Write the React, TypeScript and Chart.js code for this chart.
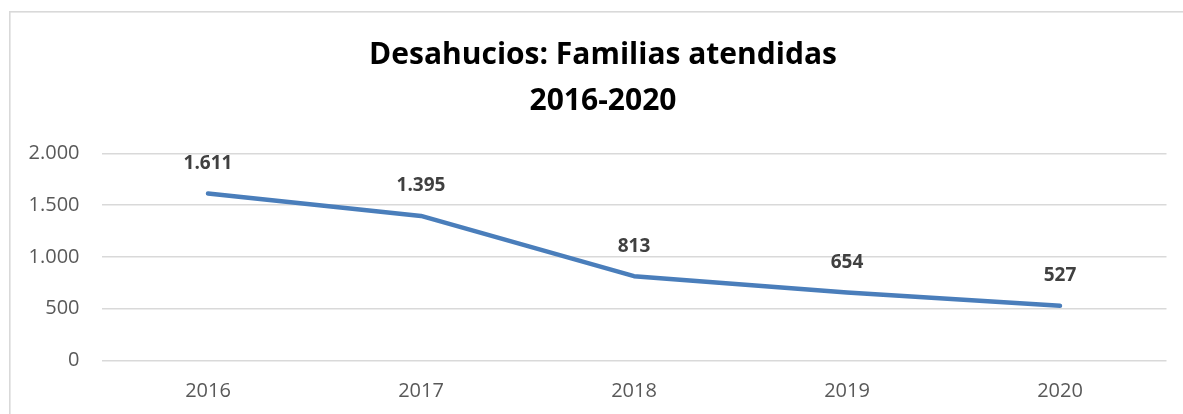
import React, { useEffect, useRef } from "react";
import { Chart, registerables } from "chart.js";

Chart.register(...registerables);

const years: string[] = ["2016", "2017", "2018", "2019", "2020"];
const families: number[] = [1611, 1395, 813, 654, 527];
const titleLines: string[] = ["Desahucios: Familias atendidas", "2016-2020"];
const yMin = 0;
const yMax = 2000;
const yStep = 500;

const fmt = (v: number): string =>
  Math.round(v).toString().replace(/\B(?=(\d{3})+(?!\d))/g, ".");

const frame = {
  id: "frame",
  beforeDraw(chart: any) {
    const ctx = chart.ctx;
    ctx.save();
    ctx.fillStyle = "#fff";
    ctx.fillRect(0, 0, chart.width, chart.height);
    ctx.fillStyle = "#d9d9d9";
    ctx.fillRect(9, 11, chart.width - 9, 1.6);
    ctx.fillRect(9, 11, 1.6, chart.height - 11);
    ctx.restore();
  },
};

const valueLabels = {
  id: "valueLabels",
  afterDatasetsDraw(chart: any) {
    const ctx = chart.ctx;
    const meta = chart.getDatasetMeta(0);
    ctx.save();
    ctx.font = "bold 19px 'Open Sans'";
    ctx.fillStyle = "#404040";
    ctx.textAlign = "center";
    ctx.textBaseline = "middle";
    meta.data.forEach((pt: any, i: number) => {
      ctx.fillText(fmt(families[i]), pt.x, pt.y - 30);
    });
    ctx.restore();
  },
};

export default function App() {
  const ref = useRef<HTMLCanvasElement | null>(null);
  useEffect(() => {
    if (!ref.current) return;
    const chart = new Chart(ref.current, {
      type: "line",
      data: {
        labels: years,
        datasets: [
          {
            data: families,
            borderColor: "#4a7ebb",
            borderWidth: 4.5,
            borderCapStyle: "round",
            borderJoinStyle: "round",
            pointRadius: 0,
            tension: 0,
            fill: false,
          },
        ],
      },
      options: {
        responsive: false,
        animation: false,
        layout: { padding: { left: 39.5, right: 16.5, top: 0, bottom: 0 } },
        plugins: {
          legend: { display: false },
          tooltip: { enabled: false },
          title: {
            display: true,
            text: titleLines,
            color: "#000",
            font: { family: "'Open Sans'", size: 30, weight: "bold", lineHeight: 46 / 30 },
            padding: { top: 32, bottom: 29.3 },
          },
        },
        scales: {
          x: {
            offset: true,
            grid: { display: false, drawTicks: false, offset: true },
            border: { display: false },
            ticks: {
              color: "#595959",
              font: { family: "'Open Sans'", size: 20 },
              padding: 19,
            },
            afterFit: (s: any) => {
              s.height = 414 - 360.3;
            },
          },
          y: {
            min: yMin,
            max: yMax,
            grid: { color: "#d9d9d9", lineWidth: 1.5, drawTicks: false },
            border: { display: false },
            ticks: {
              stepSize: yStep,
              color: "#595959",
              font: { family: "'Open Sans'", size: 20 },
              padding: 22,
              callback: (v: any) => fmt(Number(v)),
            },
            afterFit: (s: any) => {
              s.width = 62;
              // let the tick labels extend left of the narrowed axis box
              s._computeLabelArea = () => undefined;
            },
          },
        },
      },
      plugins: [frame, valueLabels],
    });
    return () => chart.destroy();
  }, []);
  return (
    <div style={{ position: "absolute", left: 0, top: 0, width: 1183, height: 414, overflow: "hidden" }}>
      <canvas ref={ref} width={1183} height={414} style={{ display: "block" }} />
    </div>
  );
}
